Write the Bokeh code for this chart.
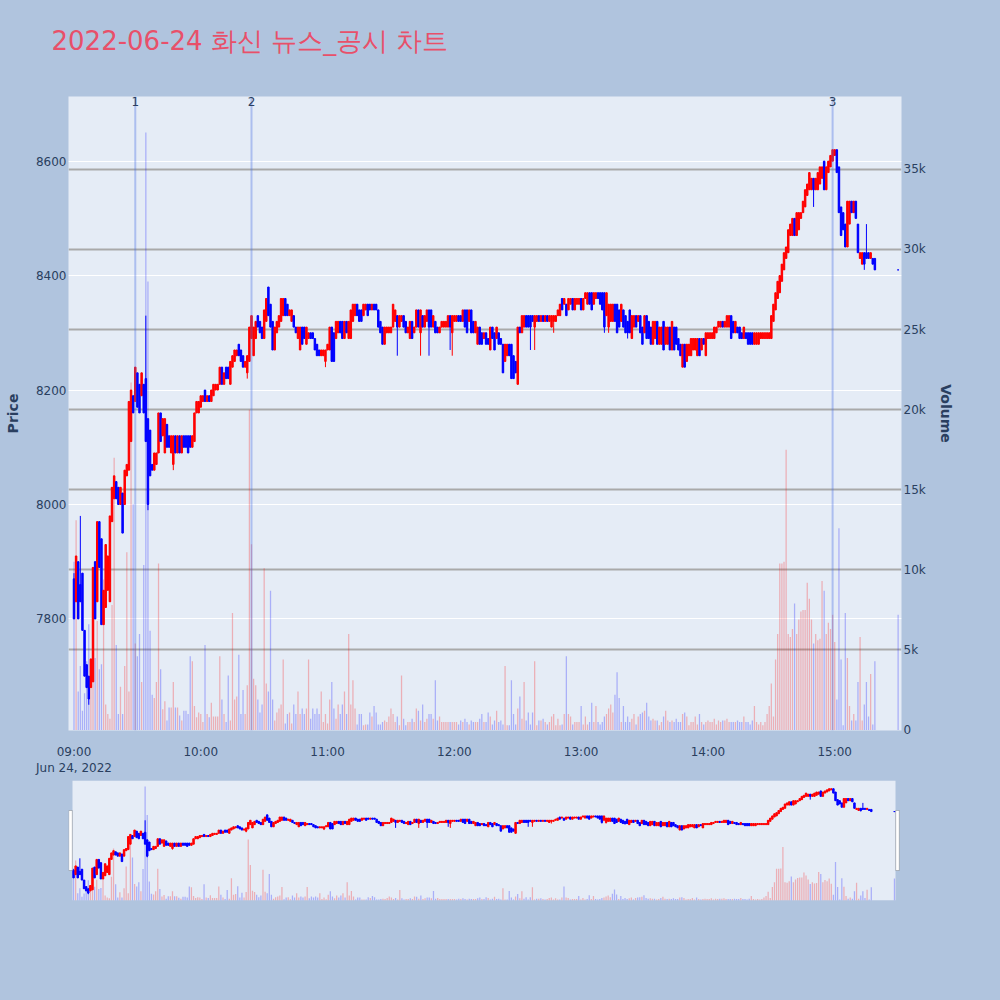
from bokeh.plotting import figure
from bokeh.models import (ColumnDataSource, Range1d, LinearAxis, FixedTicker, Span,
                          LabelSet, Grid, BoxAnnotation)
from bokeh.layouts import column
from bokeh.embed import file_html
from bokeh.resources import INLINE
from bokeh.core.properties import value

# ---------------- data ----------------
TITLE = "2022-06-24 화신 뉴스_공시 차트"
price_ticks = [7800, 8000, 8200, 8400, 8600]
volume_ticks = [0, 5, 10, 15, 20, 25, 30, 35]
volume_tick_labels = ["0", "5k", "10k", "15k", "20k", "25k", "30k", "35k"]
hour_ticks = [0, 60, 120, 180, 240, 300, 360]
hour_labels = ["09:00\nJun 24, 2022", "10:00", "11:00", "12:00", "13:00", "14:00", "15:00"]
event_minutes = [29, 84, 359]
event_labels = ["1", "2", "3"]

# one candle per minute from 09:00 (minute 0) to 15:19, plus the 15:30 closing auction
price_open = [
    # 09:00
    7870, 7830, 7900, 7860, 7880, 7780, 7720, 7700, 7680, 7690, 7900, 7830, 7970, 7940, 7790, 7820,
    7850, 7830, 7970, 8010, 8040, 8030, 8000, 8020, 8000, 8050, 8060, 8110, 8190, 8180, 8230, 8210,
    8190, 8210, 8220, 8150, 8130, 8070, 8060, 8070, 8090, 8160, 8120, 8090, 8140, 8120, 8090, 8070,
    8120, 8090, 8120, 8090, 8120, 8120, 8120, 8120, 8100, 8110, 8160, 8160, 8170, 8180, 8200, 8180,
    # 10:04
    8190, 8180, 8190, 8200, 8200, 8210, 8240, 8210, 8240, 8240, 8210, 8240, 8250, 8260, 8280, 8270,
    8260, 8240, 8230, 8250, 8290, 8260, 8290, 8330, 8320, 8310, 8290, 8320, 8380, 8350, 8320, 8270,
    8300, 8310, 8320, 8330, 8360, 8350, 8330, 8320, 8330, 8310, 8290, 8270, 8310, 8310, 8280, 8290,
    8300, 8300, 8290, 8280, 8270, 8260, 8260, 8250, 8270, 8270, 8310, 8300, 8290, 8300, 8320, 8320,
    8290, 8320, 8290,
    # 11:11
    8290, 8320, 8330, 8350, 8340, 8340, 8330, 8340, 8350, 8350, 8340, 8350, 8350, 8340, 8320, 8310,
    8280, 8300, 8300, 8300, 8310, 8320, 8330, 8310, 8320, 8330, 8320, 8300, 8290, 8320, 8300, 8310,
    8340, 8300, 8330, 8310, 8320, 8340, 8340, 8310, 8320, 8310, 8300, 8310, 8310, 8310, 8310, 8330,
    8300, 8320, 8320, 8330, 8330, 8320, 8340, 8340, 8320, 8340, 8320, 8300, 8280, 8310, 8300, 8290,
    8300, 8290,
    # 12:17
    8270, 8310, 8300, 8290, 8300, 8290, 8280, 8250, 8260, 8280, 8280, 8260, 8250, 8210, 8310, 8300,
    8310, 8330, 8330, 8330, 8330, 8310, 8320, 8330, 8320, 8330, 8320, 8330, 8320,
    8310, 8320, 8320, 8330, 8330, 8360, 8350, 8350, 8340, 8350, 8360, 8340, 8350, 8350, 8360, 8340,
    8360, 8350, 8370, 8370, 8350, 8360, 8370, 8370, 8370, 8370, 8330, 8310, 8320, 8320, 8350, 8350,
    8340, 8320, 8340, 8330, 8320, 8340,
    # 13:24
    8290, 8310, 8330, 8320, 8330, 8310, 8300, 8330, 8320, 8310, 8280, 8290, 8320, 8280, 8280, 8320,
    8280, 8280, 8310, 8270, 8310, 8310, 8290, 8280, 8240, 8280, 8250, 8260, 8260, 8270, 8270, 8260,
    8290, 8270, 8290, 8260, 8290, 8290, 8290, 8290, 8300, 8310, 8310, 8320, 8310, 8310, 8310, 8330,
    8320, 8300, 8310, 8310, 8300, 8290, 8300, 8300, 8300, 8300, 8280, 8280, 8280, 8290, 8290, 8290,
    8290, 8290,
    # 14:30
    8290, 8320, 8340, 8360, 8370, 8390, 8410, 8430, 8440, 8470, 8470, 8500, 8470, 8480, 8500, 8510,
    8520, 8540, 8550, 8550, 8570, 8550, 8550, 8560, 8570, 8600, 8550, 8580, 8590, 8600, 8610, 8620,
    8590, 8520, 8510, 8490, 8450, 8490, 8530, 8510, 8530, 8490, 8430, 8420, 8440, 8440, 8440, 8430,
    8430, 8430,
    # 15:30 closing auction
    8410,
]
price_close = [
    7800, 7910, 7800, 7830, 7780, 7700, 7680, 7660, 7730, 7890, 7800, 7970, 7890, 7790, 7850, 7930,
    7910, 7980, 8030, 8050, 8010, 8000, 8030, 7950, 8060, 8070, 8180, 8200, 8160, 8240, 8170, 8160,
    8230, 8160, 8110, 8000, 8050, 8060, 8090, 8090, 8160, 8110, 8150, 8150, 8100, 8100, 8120, 8120,
    8090, 8120, 8090, 8120, 8100, 8100, 8090, 8100, 8120, 8160, 8180, 8180, 8190, 8190, 8180, 8190,
    8180, 8200, 8210, 8210, 8210, 8240, 8210, 8230, 8220, 8220, 8250, 8260, 8270, 8270, 8260, 8250,
    8240, 8250, 8260, 8310, 8330, 8310, 8320, 8310, 8300, 8290, 8340, 8360, 8330, 8310, 8270, 8310,
    8320, 8330, 8360, 8360, 8330, 8330, 8340, 8340, 8310, 8300, 8310, 8310, 8280, 8290, 8310, 8300,
    8290, 8290, 8270, 8260, 8260, 8270, 8270, 8270, 8280, 8310, 8250, 8250, 8320, 8320, 8300, 8290,
    8320, 8300, 8320,
    8340, 8350, 8350, 8330, 8320, 8320, 8350, 8350, 8330, 8340, 8350, 8340, 8340, 8310, 8300, 8280,
    8310, 8310, 8310, 8310, 8350, 8340, 8310, 8330, 8330, 8310, 8300, 8310, 8320, 8290, 8310, 8340,
    8310, 8340, 8310, 8330, 8340, 8310, 8310, 8330, 8300, 8300, 8310, 8320, 8320, 8320, 8330, 8310,
    8330, 8330, 8330, 8320, 8320, 8340, 8310, 8300, 8340, 8300, 8300, 8320, 8310, 8280, 8280, 8300,
    8280, 8280,
    8310, 8290, 8270, 8310, 8280, 8280, 8230, 8280, 8280, 8260, 8220, 8220, 8230, 8310, 8300, 8330,
    8330, 8310, 8310, 8310, 8320, 8330, 8330, 8320, 8330, 8320, 8330, 8320, 8330,
    8330, 8330, 8330, 8340, 8350, 8340, 8360, 8330, 8360, 8360, 8340, 8360, 8360, 8360, 8340, 8360,
    8370, 8370, 8350, 8340, 8370, 8370, 8360, 8350, 8340, 8310, 8370, 8350, 8350, 8350, 8320, 8300,
    8310, 8350, 8310, 8300, 8300, 8300,
    8330, 8330, 8310, 8330, 8300, 8280, 8330, 8290, 8290, 8280, 8320, 8320, 8280, 8310, 8310, 8270,
    8310, 8310, 8270, 8320, 8270, 8280, 8270, 8260, 8280, 8240, 8280, 8280, 8290, 8290, 8290, 8290,
    8260, 8290, 8280, 8300, 8300, 8300, 8300, 8310, 8310, 8320, 8320, 8310, 8320, 8330, 8330, 8290,
    8300, 8320, 8300, 8290, 8290, 8310, 8290, 8280, 8280, 8280, 8300, 8300, 8300, 8300, 8300, 8300,
    8300, 8300,
    8330, 8350, 8370, 8390, 8400, 8420, 8440, 8450, 8480, 8490, 8500, 8470, 8510, 8510, 8510, 8530,
    8550, 8560, 8580, 8570, 8550, 8570, 8580, 8590, 8590, 8550, 8590, 8600, 8610, 8620, 8620, 8580,
    8510, 8470, 8480, 8450, 8530, 8530, 8510, 8530, 8500, 8440, 8440, 8440, 8420, 8430, 8430, 8440,
    8420, 8410,
    8410,
]
# wick extremes beyond the candle body (minute index -> price)
wick_high = {0: 7880, 3: 7980, 34: 8330, 362: 8590, 375: 8490}
wick_low = {7: 7650, 35: 7990, 47: 8060, 82: 8220, 107: 8270, 119: 8240, 153: 8260, 164: 8260,
            168: 8260, 178: 8270, 179: 8260, 210: 8210, 216: 8270, 218: 8270, 227: 8300, 251: 8300,
            253: 8300, 262: 8290, 350: 8520, 374: 8410}
# traded volume per minute, in thousands of shares
volume_k = [
    10.5, 13.1, 2.4, 4.0, 1.2, 2.3, 4.3, 6.6, 4.5, 4.4, 4.5, 6.8, 3.8, 4.1, 9.4, 1.6,
    1.0, 0.7, 7.8, 17.0, 5.3, 1.0, 2.7, 1.0, 4.0, 11.1, 2.4, 21.7, 14.1, 5.4, 4.6, 6.0,
    3.0, 10.3, 37.3, 28.0, 6.2, 2.2, 2.0, 3.0, 10.4, 3.8, 1.3, 1.8, 0.6, 1.4, 1.4, 3.0,
    1.4, 1.4, 0.9, 0.6, 1.2, 1.2, 1.0, 4.6, 4.3, 1.5, 0.8, 1.1, 1.0, 0.5, 5.3, 1.0,
    0.8, 1.7, 0.85, 0.85, 0.85, 4.6, 1.9, 1.0, 0.5, 3.4, 0.6, 7.3, 1.9, 2.1, 4.7, 1.0,
    2.5, 1.0, 2.8, 20.0, 11.6, 3.2, 2.8, 1.9, 1.1, 1.6, 10.1, 2.9, 2.4, 8.7, 1.9, 0.6,
    1.1, 1.35, 1.6, 4.4, 0.4, 1.0, 1.1, 0.4, 1.6, 1.0, 2.4, 1.0, 1.35, 1.0, 1.35, 4.4,
    0.7, 1.35, 1.0, 1.35, 1.0, 2.4, 0.5, 1.0, 0.4, 1.9, 3.0, 1.35, 0.7, 1.6, 1.0, 1.6,
    2.4, 1.0, 6.0,
    1.6, 3.1, 1.35, 0.35, 1.0, 1.0, 0.3, 0.35, 0.35, 1.1, 0.85, 1.5, 1.1, 0.35, 0.35, 0.5,
    0.6, 0.5, 0.85, 1.35, 1.0, 0.5, 0.85, 0.3, 3.4, 0.7, 0.3, 0.5, 0.5, 0.7, 0.5, 1.35,
    1.2, 0.6, 1.6, 0.5, 0.7, 1.0, 1.0, 0.7, 3.1, 0.6, 0.85, 0.5, 0.5, 0.5, 0.5, 0.5,
    0.5, 0.5, 0.5, 0.35, 0.6, 0.5, 0.7, 0.5, 0.35, 0.6, 0.5, 0.5, 0.5, 0.7, 1.0, 0.5,
    0.5, 1.1,
    0.85, 0.35, 0.6, 1.2, 0.5, 0.6, 0.35, 4.0, 0.3, 0.3, 3.1, 1.0, 0.35, 1.35, 2.1, 0.7,
    3.0, 0.6, 1.1, 0.35, 1.1, 4.3, 0.3, 0.6, 0.6, 0.7, 0.5, 0.35, 0.5, 0.85, 1.0, 0.3,
    0.7, 0.3, 0.35, 1.0, 4.6, 1.0, 0.85, 0.35, 0.5, 0.5, 0.5, 1.5, 0.35, 0.85, 0.35, 0.5,
    1.7, 0.5, 1.5, 0.5, 0.35, 0.5, 0.85, 1.0, 1.35, 1.6, 1.1, 2.2, 3.6, 2.0, 0.5, 1.5,
    0.5, 0.85, 0.5,
    0.7, 1.0, 0.35, 0.85, 1.0, 1.1, 1.2, 1.7, 0.85, 0.6, 0.7, 0.6, 0.6, 0.3, 0.5, 0.85,
    1.2, 0.6, 0.5, 0.6, 0.5, 0.7, 0.5, 0.5, 1.0, 1.1, 0.85, 0.3, 0.5, 0.5, 0.85, 0.35,
    1.0, 0.5, 0.35, 0.5, 0.6, 0.5, 0.5, 0.7, 0.35, 0.6, 0.5, 0.6, 0.6, 0.7, 0.5, 0.5,
    0.5, 0.5, 0.6, 0.5, 0.5, 0.85, 0.5, 0.5, 0.35, 0.6, 1.5, 0.5, 0.35, 0.5, 0.3, 0.5,
    1.0, 1.5,
    2.9, 0.85, 4.4, 6.0, 10.4, 10.4, 10.5, 17.5, 6.0, 5.8, 6.3, 7.9, 6.0, 6.9, 7.4, 7.5,
    7.5, 9.2, 8.2, 6.9, 5.4, 6.0, 5.6, 5.7, 9.3, 8.7, 6.0, 6.7, 6.3, 7.2, 5.5, 1.9,
    12.6, 4.4, 0.3, 7.3, 4.5, 1.5, 0.6, 1.0, 0.6, 3.0, 5.8, 0.6, 1.6, 3.0, 0.85, 3.5,
    0.35, 4.3,
    7.2,
]
minute = list(range(len(price_open) - 1)) + [390]

# ---------------- styling ----------------
PAGE_BG = "#B0C4DE"
PLOT_BG = "#E5ECF6"
TXT = "#2a3f5f"
FONT = "DejaVu Sans"
UP, DOWN = "#FF0000", "#0000FF"

highs = [wick_high.get(i, max(o, c)) for i, (o, c) in enumerate(zip(price_open, price_close))]
lows = [wick_low.get(i, min(o, c)) for i, (o, c) in enumerate(zip(price_open, price_close))]
colors = [UP if c > o else DOWN for o, c in zip(price_open, price_close)]
src = ColumnDataSource(dict(
    m=minute, o=price_open, c=price_close, hi=highs, lo=lows,
    top=[max(o, c) for o, c in zip(price_open, price_close)],
    bot=[min(o, c) for o, c in zip(price_open, price_close)],
    col=colors, vol=volume_k,
))


def add_series(fig, wick_w, body_w, vol_w):
    fig.vbar(x="m", top="vol", bottom=0, width=vol_w, y_range_name="vol",
             fill_color="col", fill_alpha=0.26, line_color=None, source=src)
    fig.segment(x0="m", y0="lo", x1="m", y1="hi", line_color="col", line_width=wick_w, source=src)
    fig.vbar(x="m", top="top", bottom="bot", width=body_w, fill_color="col",
             line_color="col", line_width=1, source=src)


# ---------------- title strip (pixel coordinates) ----------------
head = figure(width=1000, height=96, x_range=Range1d(0, 1000), y_range=Range1d(0, 96),
              output_backend="svg", toolbar_location=None, tools="",
              x_axis_location=None, y_axis_location=None,
              background_fill_color=PAGE_BG, border_fill_color=PAGE_BG, outline_line_color=None,
              min_border=0, min_border_left=0, min_border_right=0, min_border_top=0,
              min_border_bottom=0)
head.frame_align = False
head.grid.visible = False
head.text(x=[51], y=[55.5], text=[TITLE], text_font=value(FONT), text_font_size="26px",
          text_color="#E8506A", text_align="left", text_baseline="alphabetic")

# ---------------- main chart ----------------
p = figure(width=1000, height=684, x_range=Range1d(-2.6, 391.6), y_range=Range1d(7605, 8713),
           output_backend="svg", toolbar_location=None, tools="",
           background_fill_color=PLOT_BG, border_fill_color=PAGE_BG, outline_line_color=None,
           min_border_left=68, min_border_right=99, min_border_top=0, min_border_bottom=50)
p.extra_y_ranges = {"vol": Range1d(-0.03, 39.55)}

p.xgrid.visible = False
p.ygrid.ticker = FixedTicker(ticks=price_ticks)
p.ygrid.grid_line_color = "white"
p.ygrid.grid_line_width = 1
vol_grid = Grid(dimension=1, ticker=FixedTicker(ticks=volume_ticks[1:]), y_range_name="vol",
                grid_line_color="#A9A9A9", grid_line_width=2)
p.add_layout(vol_grid)

ax_x = p.xaxis[0]
ax_x.ticker = FixedTicker(ticks=hour_ticks)
ax_x.major_label_overrides = {t: l for t, l in zip(hour_ticks, hour_labels)}
ax_y = p.yaxis[0]
ax_y.ticker = FixedTicker(ticks=price_ticks)
ax_y.axis_label = "Price"
ax_v = LinearAxis(y_range_name="vol", ticker=FixedTicker(ticks=volume_ticks),
                  major_label_overrides={t: l for t, l in zip(volume_ticks, volume_tick_labels)},
                  axis_label="Volume")
p.add_layout(ax_v, "right")
for ax in (ax_x, ax_y, ax_v):
    ax.axis_line_color = None
    ax.major_tick_line_color = None
    ax.minor_tick_line_color = None
    ax.major_tick_out = 0
    ax.major_tick_in = 0
    ax.major_label_text_font = FONT
    ax.major_label_text_font_size = "12px"
    ax.major_label_text_color = TXT
    ax.axis_label_text_font = FONT
    ax.axis_label_text_font_size = "14px"
    ax.axis_label_text_font_style = "bold"
    ax.axis_label_text_color = TXT
ax_x.major_label_standoff = 14
ax_y.major_label_standoff = 2
ax_y.axis_label_standoff = 12
ax_v.major_label_standoff = 2
ax_v.axis_label_standoff = 9

add_series(p, 1, 0.7, 0.6)

for m in event_minutes:
    p.add_layout(Span(location=m, dimension="height", line_color="#4169E1",
                      line_alpha=0.35, line_width=2))
ev_src = ColumnDataSource(dict(m=event_minutes, y=[8713] * len(event_minutes), t=event_labels))
p.add_layout(LabelSet(x="m", y="y", text="t", source=ev_src, text_align="center",
                      text_baseline="top", text_font=value(FONT), text_font_size="12px",
                      text_color=TXT))

# ---------------- range slider ----------------
s = figure(width=1000, height=220, x_range=Range1d(-2.4, 393.35), y_range=Range1d(7592, 8696),
           output_backend="svg", toolbar_location=None, tools="",
           x_axis_location=None, y_axis_location=None,
           background_fill_color=PAGE_BG, border_fill_color=PAGE_BG, outline_line_color=None,
           min_border_left=68, min_border_right=99, min_border_top=0, min_border_bottom=100)
s.extra_y_ranges = {"vol": Range1d(0, 39.3)}
s.grid.visible = False
s.add_layout(BoxAnnotation(left=-0.5, right=390.5, fill_color=PLOT_BG, fill_alpha=1,
                           line_color=None, level="underlay"))
add_series(s, 1, 0.7, 0.6)
for l, r in ((-2.3, -0.6), (390.6, 392.3)):
    s.add_layout(BoxAnnotation(left=l, right=r, bottom=7868, top=8420, fill_color="white",
                               fill_alpha=1, line_color="#444444", line_width=1))

layout = column(head, p, s, spacing=0)
TEMPLATE = "{% block postamble %}<style>html, body { background-color: #B0C4DE; }</style>{% endblock %}"
open("out.html", "w").write(file_html(layout, INLINE, title="chart", template=TEMPLATE))
